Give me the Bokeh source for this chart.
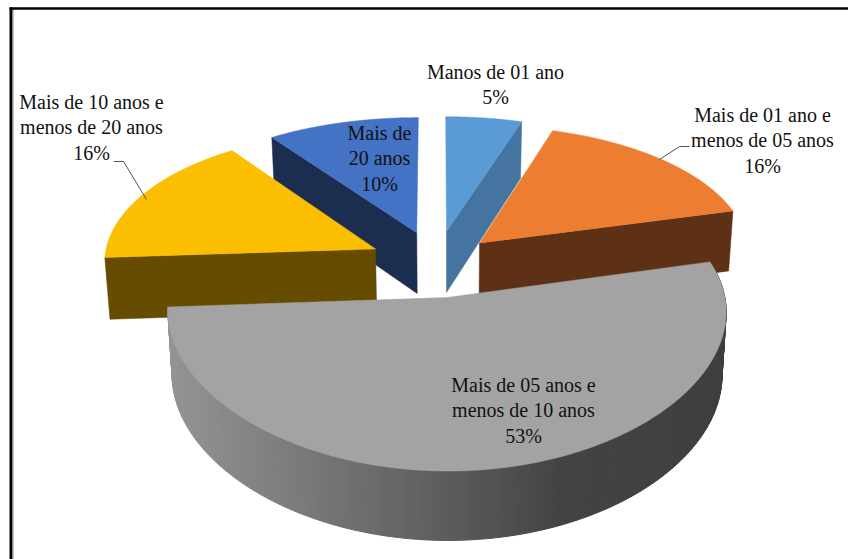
import numpy as np
from bokeh.core.properties import value
from bokeh.embed import file_html
from bokeh.models import Range1d
from bokeh.plotting import figure
from bokeh.resources import INLINE

# Data
categories = [
    ["Manos de 01 ano"],
    ["Mais de 01 ano e", "menos de 05 anos"],
    ["Mais de 05 anos e", "menos de 10 anos"],
    ["Mais de 10 anos e", "menos de 20 anos"],
    ["Mais de", "20 anos"],
]
percent = [5, 16, 53, 16, 10]
top_colors = ["#5B9BD5", "#ED7D31", "#A3A3A3", "#FBBE00", "#4472C4"]
side_colors = ["#44749F", "#5E3117", "#808080", "#664C00", "#1B2E50"]
label_centers = [(495, 71), (762, 114), (523, 384), (91, 101), (379, 132)]
explode = [0.24, 0.22, 0.24, 0.25, 0.24]

# Projection of the tilted, exploded pie onto the page (pixel space)
OX, OY, RX, RY, PERSP_X, PERSP_Y = 436, 263, 272, 139, 0.09, 0.1386
DEPTH, TAPER, TAPER_X = 62, 0.985, 447
FONT, FONT_SIZE, LINE_H = "Liberation Serif", "20px", 25.5


def project(wx, wy):
    sx = 1 / (1 + PERSP_X * wy)
    sy = 1 / (1 + PERSP_Y * wy)
    return OX + RX * wx * sx, OY - RY * wy * sy, sy


def drop(x, y, s):
    # Bottom rim of the extruded disc directly below a top-face point
    return TAPER_X + (x - TAPER_X) * TAPER, y + DEPTH * s ** 0.6


p = figure(width=848, height=559, output_backend="svg", toolbar_location=None,
           x_range=Range1d(0, 848), y_range=Range1d(559, 0), min_border=0,
           background_fill_color="white", border_fill_color="white")
p.axis.visible = False
p.grid.visible = False
p.outline_line_color = None

# Slice angles: clockwise from twelve o'clock
edges = np.cumsum([0] + percent) / sum(percent)
t_start = np.pi / 2 - 2 * np.pi * edges[:-1]
t_end = np.pi / 2 - 2 * np.pi * edges[1:]

slices = []
for t0, t1, e in zip(t_start, t_end, explode):
    mid = (t0 + t1) / 2
    slices.append((e * np.cos(mid), e * np.sin(mid), np.linspace(t0, t1, 160)))


def rim(i):
    ax, ay, ts = slices[i]
    return project(ax + np.cos(ts), ay + np.sin(ts))


def apex(i):
    return project(slices[i][0], slices[i][1])


def cut_face(i, at_start, color):
    # Radial wall between the slice's centre and one of its arc ends
    x, y, s = rim(i)
    k = 0 if at_start else -1
    ax, ay, a_s = apex(i)
    bx0, by0 = drop(x[k], y[k], s[k])
    bx1, by1 = drop(ax, ay, a_s)
    p.patch([x[k], ax, bx1, bx0], [y[k], ay, by1, by0], fill_color=color, line_color=color, line_width=0.5)


def top_face(i):
    x, y, _ = rim(i)
    ax, ay, _ = apex(i)
    p.patch(np.r_[ax, x], np.r_[ay, y], fill_color=top_colors[i], line_color=top_colors[i], line_width=0.5)


# Back-to-front painting order: blue, light blue, orange, yellow, grey
cut_face(4, True, side_colors[4])
top_face(4)
cut_face(0, False, side_colors[0])
top_face(0)
cut_face(1, False, side_colors[1])
top_face(1)
cut_face(3, True, side_colors[3])
top_face(3)

# Outer wall of the large slice, shaded from left to right
gx, gy, gs = rim(2)
bx, by = drop(gx, gy, gs)
shade_x = [160, 300, 450, 560, 730]
shade_v = [150, 122, 92, 68, 62]
for j in range(len(gx) - 1):
    v = int(np.interp((gx[j] + gx[j + 1]) / 2, shade_x, shade_v))
    c = f"#{v:02x}{v:02x}{v:02x}"
    p.patch([gx[j], gx[j + 1], bx[j + 1], bx[j]], [gy[j], gy[j + 1], by[j + 1], by[j]],
            fill_color=c, line_color=c, line_width=1)
top_face(2)

# Leader lines
p.line([113, 123, 146], [161, 161, 199], line_color="#555555", line_width=1)
p.line([659, 679, 689], [159, 146, 146], line_color="#555555", line_width=1)

# Data labels
for lines, pct, (cx, cy) in zip(categories, percent, label_centers):
    rows = lines + [f"{pct}%"]
    p.text([cx] * len(rows), [cy + LINE_H * n for n in range(len(rows))], text=rows,
           text_font=value(FONT), text_font_size=FONT_SIZE, text_color="#111111",
           text_align="center", text_baseline="middle")

# Heavy rule with a fine grey inner line round the panel
p.line([10.5, 10.5], [7, 559], line_color="black", line_width=3)
p.line([12.5, 12.5], [9, 559], line_color="#8a8a8a", line_width=1)
p.line([9, 848], [8, 8], line_color="black", line_width=2.5)

open("out.html", "w").write(file_html(p, INLINE))
